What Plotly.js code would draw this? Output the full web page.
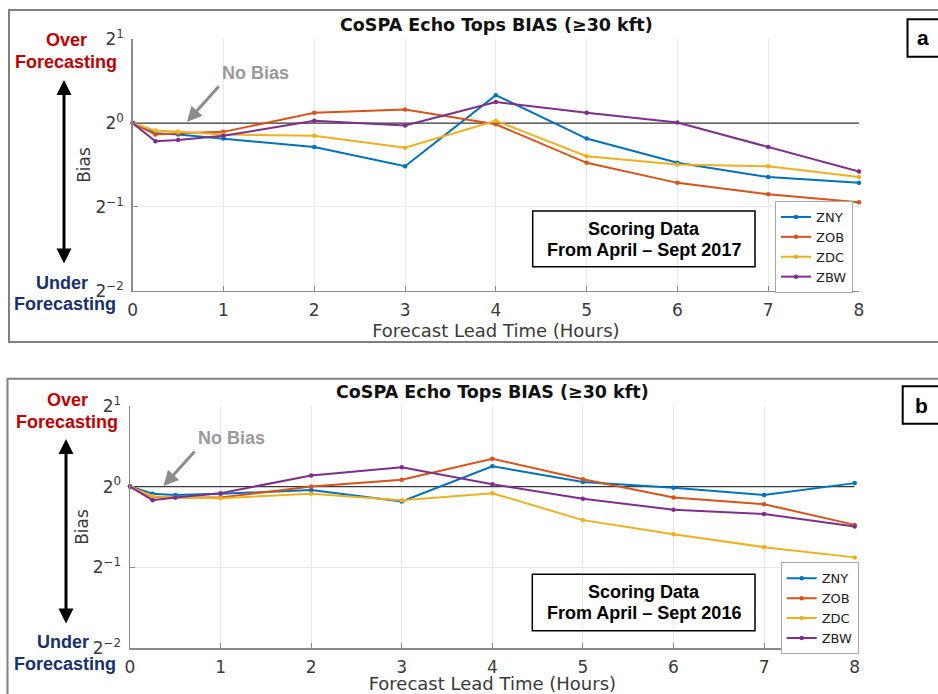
<!DOCTYPE html>
<html>
<head>
<meta charset="utf-8">
<script src="https://cdn.plot.ly/plotly-3.0.1.min.js"></script>
<style>
html,body{margin:0;padding:0;background:#fff;}
#chart{width:938px;height:694px;}
</style>
</head>
<body>
<div id="chart"></div>
<script>
// ---- Data ----
const leadHours = [0, 0.25, 0.5, 1, 2, 3, 4, 5, 6, 7, 8];
const seriesNames = ['ZNY', 'ZOB', 'ZDC', 'ZBW'];

// Panel a: April - Sept 2017 (bias values)
const biasA_ZNY = [1.00, 0.92, 0.91, 0.88, 0.82, 0.70, 1.26, 0.88, 0.72, 0.64, 0.61];
const biasA_ZOB = [1.00, 0.91, 0.92, 0.93, 1.09, 1.12, 0.99, 0.72, 0.61, 0.555, 0.52];
const biasA_ZDC = [1.00, 0.94, 0.93, 0.91, 0.90, 0.815, 1.02, 0.76, 0.71, 0.70, 0.64];
const biasA_ZBW = [1.00, 0.86, 0.87, 0.90, 1.02, 0.98, 1.19, 1.09, 1.005, 0.82, 0.67];

// Panel b: April - Sept 2016 (bias values)
const biasB_ZNY = [1.00, 0.94, 0.93, 0.94, 0.97, 0.88, 1.19, 1.04, 0.99, 0.93, 1.03];
const biasB_ZOB = [1.00, 0.915, 0.91, 0.91, 1.00, 1.06, 1.27, 1.065, 0.91, 0.86, 0.72];
const biasB_ZDC = [1.00, 0.92, 0.91, 0.905, 0.94, 0.89, 0.945, 0.75, 0.665, 0.595, 0.545];
const biasB_ZBW = [1.00, 0.89, 0.91, 0.945, 1.10, 1.18, 1.02, 0.90, 0.82, 0.79, 0.71];

const noBiasX = [0, 8];
const noBiasY = [1, 1];

const xTicks = [0, 1, 2, 3, 4, 5, 6, 7, 8];
const yTickVals = [0.25, 0.5, 1, 2];
const yTickText = ['2<sup>\u22122</sup>', '2<sup>\u22121</sup>', '2<sup>0</sup>', '2<sup>1</sup>'];

const chartTitle = 'CoSPA Echo Tops BIAS (\u226530 kft)';
const xTitle = 'Forecast Lead Time (Hours)';
const yTitle = 'Bias';
const scoringA = ['Scoring Data', 'From April \u2013 Sept 2017'];
const scoringB = ['Scoring Data', 'From April \u2013 Sept 2016'];

// ---- Styling ----
const colors = ['#0072BD', '#D95319', '#EDB120', '#7E2F8E'];
const W = 938, H = 694;
const px = v => v / W;
const py = v => 1 - v / H;

const seriesA = [biasA_ZNY, biasA_ZOB, biasA_ZDC, biasA_ZBW];
const seriesB = [biasB_ZNY, biasB_ZOB, biasB_ZDC, biasB_ZBW];

const traces = [];
traces.push({x: noBiasX, y: noBiasY, xaxis: 'x', yaxis: 'y', mode: 'lines',
  line: {color: '#3a3a3a', width: 1.2}, showlegend: false, hoverinfo: 'skip'});
traces.push({x: noBiasX, y: noBiasY, xaxis: 'x2', yaxis: 'y2', mode: 'lines',
  line: {color: '#3a3a3a', width: 1.2}, showlegend: false, hoverinfo: 'skip'});
seriesNames.forEach((n, i) => {
  traces.push({x: leadHours, y: seriesA[i], name: n, xaxis: 'x', yaxis: 'y',
    mode: 'lines+markers', line: {color: colors[i], width: 2},
    marker: {color: colors[i], size: 4.5}, cliponaxis: false, legend: 'legend'});
});
seriesNames.forEach((n, i) => {
  traces.push({x: leadHours, y: seriesB[i], name: n, xaxis: 'x2', yaxis: 'y2',
    mode: 'lines+markers', line: {color: colors[i], width: 2},
    marker: {color: colors[i], size: 4.5}, cliponaxis: false, legend: 'legend2'});
});

const axisFont = {family: 'DejaVu Sans', size: 17, color: '#3a3a3a'};
const axisLine = '#8a8a8a';
function xAxis(domain, anchor) {
  return {domain: domain, anchor: anchor, range: [0, 8], tickvals: xTicks,
    showgrid: true, gridcolor: '#e8e8e8', zeroline: false, showline: true,
    linecolor: axisLine, linewidth: 1.5, ticks: 'inside', ticklen: 5, tickcolor: axisLine,
    tickfont: axisFont, ticklabelstandoff: 3,
    title: {text: xTitle, font: {family: 'DejaVu Sans', size: 18, color: '#3a3a3a'}, standoff: 4}};
}
function yAxis(domain, anchor) {
  return {domain: domain, anchor: anchor, type: 'log',
    range: [Math.log10(0.25), Math.log10(2)], tickvals: yTickVals, ticktext: yTickText,
    showgrid: true, gridcolor: '#e8e8e8', zeroline: false, showline: true,
    linecolor: axisLine, linewidth: 1.5, ticks: 'inside', ticklen: 5, tickcolor: axisLine,
    tickfont: axisFont, ticklabelstandoff: 4,
    title: {text: yTitle, font: {family: 'DejaVu Sans', size: 17, color: '#3a3a3a'}, standoff: 0}};
}

const boldFont = (size, color) => ({family: 'Liberation Sans, Arial, sans-serif', size: size, color: color});
const ann = [];
function txt(text, x, y, size, color) {
  ann.push({text: '<b>' + text + '</b>', xref: 'paper', yref: 'paper', x: px(x), y: py(y),
    xanchor: 'center', yanchor: 'middle', showarrow: false, font: boldFont(size, color)});
}
function arrow(tipX, tipY, tailX, tailY, color, both) {
  ann.push({text: '', xref: 'paper', yref: 'paper', x: px(tipX), y: py(tipY),
    ax: tailX - tipX, ay: tailY - tipY, showarrow: true, arrowhead: 2, arrowsize: 1,
    arrowwidth: 3, arrowcolor: color, arrowside: both ? 'end+start' : 'end', startarrowhead: 2,
    startarrowsize: 1});
}
const red = '#c00000', navy = '#17306f', gray = '#9a9a9a';

// Panel a annotations
ann.push({text: '<b>' + chartTitle + '</b>', xref: 'paper', yref: 'paper', x: px(496), y: py(25),
  xanchor: 'center', yanchor: 'middle', showarrow: false, font: {family: 'DejaVu Sans', size: 17.5, color: '#111'}});
txt('Over', 66, 40, 18, red);
txt('Forecasting', 66, 62, 18, red);
txt('Under', 62, 283, 18, navy);
txt('Forecasting', 65, 304, 18, navy);
arrow(64, 80, 64, 265, '#000', true);
txt('No Bias', 255, 73, 18, gray);
arrow(187, 122, 220, 85, '#8c8c8c', false);
txt(scoringA[0], 643.5, 229, 18, '#000');
txt(scoringA[1], 643.5, 250, 18, '#000');
txt('a', 923, 38, 21, '#000');

// Panel b annotations
ann.push({text: '<b>' + chartTitle + '</b>', xref: 'paper', yref: 'paper', x: px(492), y: py(392),
  xanchor: 'center', yanchor: 'middle', showarrow: false, font: {family: 'DejaVu Sans', size: 17.5, color: '#111'}});
txt('Over', 67, 400, 18, red);
txt('Forecasting', 67, 422, 18, red);
txt('Under', 63, 642, 18, navy);
txt('Forecasting', 65, 664, 18, navy);
arrow(66, 439, 66, 625, '#000', true);
txt('No Bias', 231, 438, 18, gray);
arrow(163.5, 486, 196, 450, '#8c8c8c', false);
txt(scoringB[0], 643.5, 592, 18, '#000');
txt(scoringB[1], 643.5, 613, 18, '#000');
txt('b', 921, 405, 21, '#000');

const shapes = [
  {type: 'rect', xref: 'paper', yref: 'paper', x0: px(9), x1: px(950), y0: py(342), y1: py(10),
    line: {color: '#808080', width: 2}},
  {type: 'rect', xref: 'paper', yref: 'paper', x0: px(7.5), x1: px(950), y0: py(710), y1: py(378.7),
    line: {color: '#808080', width: 2}},
  {type: 'rect', xref: 'paper', yref: 'paper', x0: px(907.5), x1: px(950), y0: py(56.7), y1: py(19.3),
    line: {color: '#000', width: 2}},
  {type: 'rect', xref: 'paper', yref: 'paper', x0: px(902.7), x1: px(950), y0: py(423.7), y1: py(386.3),
    line: {color: '#000', width: 2}},
  {type: 'rect', xref: 'paper', yref: 'paper', x0: px(532.7), x1: px(755), y0: py(266.7), y1: py(211),
    line: {color: '#000', width: 1.5}},
  {type: 'rect', xref: 'paper', yref: 'paper', x0: px(532.3), x1: px(755), y0: py(630.7), y1: py(574.3),
    line: {color: '#000', width: 1.5}}
];

const legendCommon = {xanchor: 'left', yanchor: 'top', bgcolor: '#fff', bordercolor: '#a8a8a8',
  borderwidth: 1, font: {family: 'DejaVu Sans', size: 13, color: '#222'}, itemwidth: 30,
  tracegroupgap: 0, traceorder: 'normal'};

const layout = {
  width: W, height: H, margin: {l: 0, r: 0, t: 0, b: 0},
  paper_bgcolor: '#fff', plot_bgcolor: '#fff',
  showlegend: true,
  xaxis: xAxis([px(132.7), px(859)], 'y'),
  yaxis: yAxis([py(290.7), py(39.3)], 'x'),
  xaxis2: xAxis([px(130), px(854.7)], 'y2'),
  yaxis2: yAxis([py(648.3), py(405.7)], 'x2'),
  legend: Object.assign({x: px(775), y: py(201)}, legendCommon),
  legend2: Object.assign({x: px(780.7), y: py(562.3)}, legendCommon),
  annotations: ann,
  shapes: shapes
};

Plotly.newPlot('chart', traces, layout, {displayModeBar: false, staticPlot: true});
</script>
</body>
</html>
